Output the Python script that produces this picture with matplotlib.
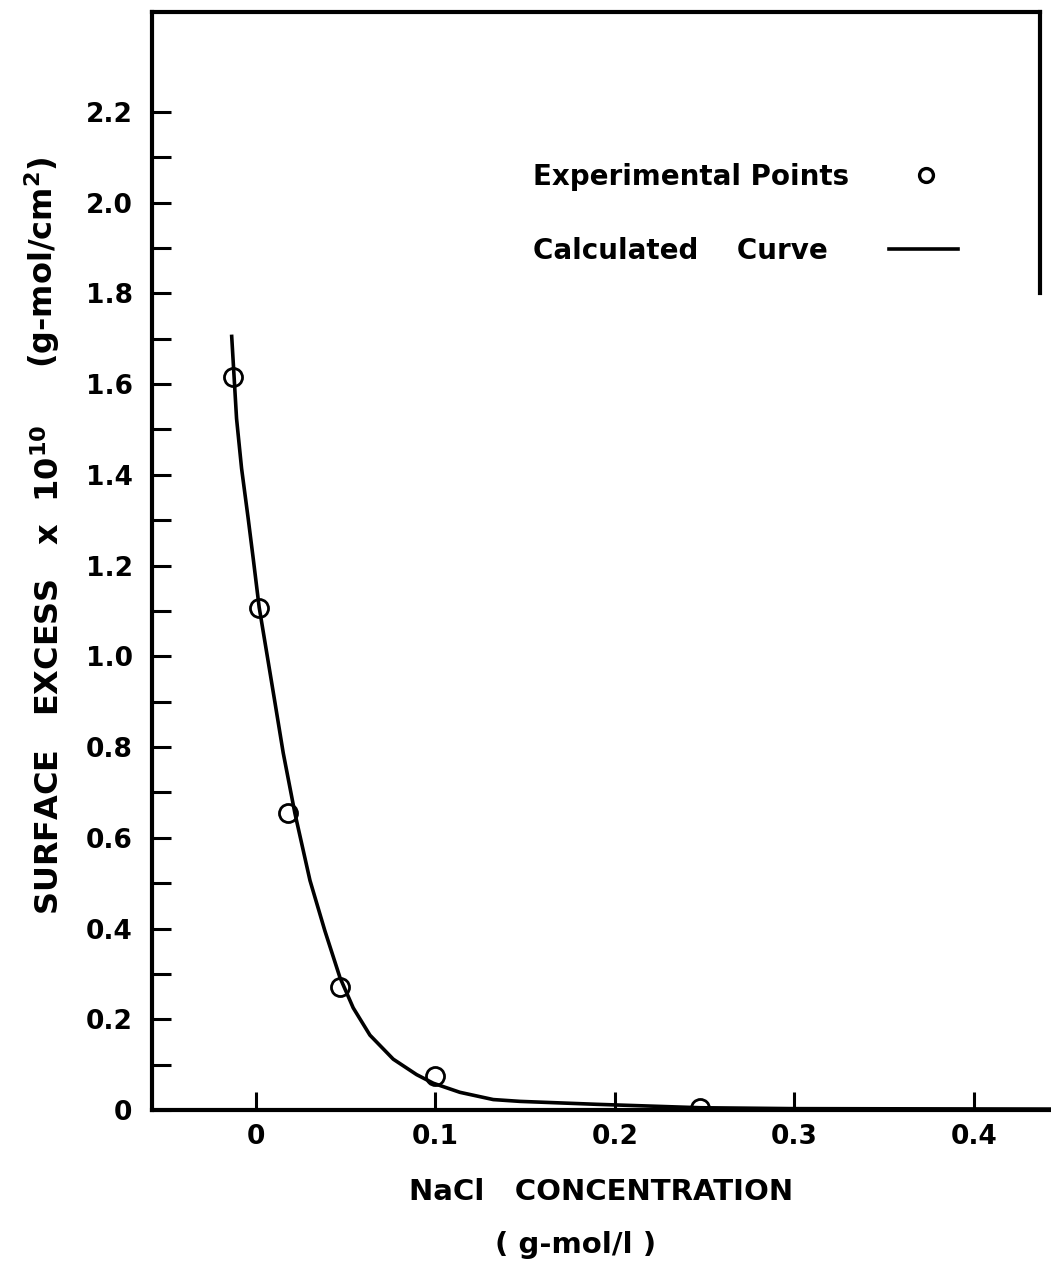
# surface excess vs NaCl concentration, experimental points and calculated curve
import matplotlib
matplotlib.use("Agg")
import matplotlib.pyplot as plt
from matplotlib.lines import Line2D

plt.rcParams['font.family'] = ['DejaVu Sans']

# experimental points
conc_pts = [-0.0126, 0.0017, 0.018, 0.0468, 0.0997, 0.2474]
excess_pts = [1.616, 1.106, 0.655, 0.270, 0.074, 0.005]

# calculated curve
conc_curve = [-0.0135, -0.0108, -0.0080, -0.0043, -0.0015, 0.0018, 0.0060, 0.0106,
              0.0152, 0.0199, 0.0217, 0.0301, 0.0384, 0.0468, 0.0542, 0.0635,
              0.0765, 0.0895, 0.0988, 0.1136, 0.1322, 0.1471, 0.19, 0.2474, 0.30, 0.4429]
excess_curve = [1.705, 1.524, 1.414, 1.303, 1.215, 1.108, 1.008, 0.898,
                0.787, 0.691, 0.654, 0.506, 0.395, 0.292, 0.225, 0.165,
                0.112, 0.078, 0.059, 0.039, 0.023, 0.019, 0.0125, 0.005, 0.003, 0.002]

y_major = [0, 0.2, 0.4, 0.6, 0.8, 1.0, 1.2, 1.4, 1.6, 1.8, 2.0, 2.2]
y_major_labels = ["0", "0.2", "0.4", "0.6", "0.8", "1.0", "1.2", "1.4", "1.6", "1.8", "2.0", "2.2"]
y_minor = [0.1, 0.3, 0.5, 0.7, 0.9, 1.1, 1.3, 1.5, 1.7, 1.9, 2.1]
x_major = [0, 0.1, 0.2, 0.3, 0.4]
x_major_labels = ["0", "0.1", "0.2", "0.3", "0.4"]

W, H = 1051, 1264
fig = plt.figure(figsize=(W / 100, H / 100), dpi=100)
ax = fig.add_axes([152 / W, 1 - 1110 / H, 1 - 152 / W, (1110 - 12) / H])

ax.plot(conc_curve, excess_curve, color='black', lw=2.6, solid_joinstyle='round')
ax.plot(conc_pts, excess_pts, 'o', ms=13, mfc='none', mec='black', mew=2.0)

ax.set_xlim(-0.0579, 0.4429)
ax.set_ylim(0, 2.42)

x_right = 0.4365
for s in ['left', 'bottom', 'top', 'right']:
    ax.spines[s].set_linewidth(3)
ax.spines['right'].set_position(('data', x_right))
ax.spines['right'].set_bounds(1.8, 2.42)
ax.spines['top'].set_bounds(-0.0579, x_right)

ax.set_yticks(y_major)
ax.set_yticklabels(y_major_labels)
ax.set_yticks(y_minor, minor=True)
ax.set_xticks(x_major)
ax.set_xticklabels(x_major_labels)
ax.tick_params(axis='y', which='both', direction='in', length=14, width=2.2,
               labelsize=19, pad=14, right=False)
ax.tick_params(axis='x', which='major', direction='in', length=13, width=2.2,
               labelsize=19, pad=10, top=False)
for lab in ax.get_xticklabels() + ax.get_yticklabels():
    lab.set_fontweight('bold')

fig.text(50 / W, 1 - 915 / H, r"SURFACE   EXCESS   x  10$^{\mathbf{10}}$",
         rotation=90, ha='center', va='bottom', fontsize=23, fontweight='bold')
fig.text(42 / W, 1 - 368 / H, r"(g-mol/cm$^{\mathbf{2}}$)",
         rotation=90, ha='center', va='bottom', fontsize=23, fontweight='bold')

fig.text(601 / W, 1 - 1192 / H, "NaCl   CONCENTRATION", ha='center', va='center',
         fontsize=21, fontweight='bold')
fig.text(576 / W, 1 - 1245 / H, "( g-mol/l )", ha='center', va='center',
         fontsize=21, fontweight='bold')

# legend: two single-entry legends so both labels start at the same x
pts_handle = Line2D([], [], ls='none', marker='o', ms=10, mfc='none', mec='black', mew=2.4)
curve_handle = Line2D([], [], color='black', lw=2.6)
leg1 = ax.legend([pts_handle], ["Experimental Points"], loc='upper left',
                 bbox_to_anchor=(0.424, 0.8625), frameon=False, markerfirst=False,
                 fontsize=20, handlelength=2.5, handletextpad=1.5,
                 borderpad=0, borderaxespad=0)
for t in leg1.get_texts():
    t.set_fontweight('bold')
ax.add_artist(leg1)
leg2 = ax.legend([curve_handle], ["Calculated    Curve"], loc='upper left',
                 bbox_to_anchor=(0.424, 0.795), frameon=False, markerfirst=False,
                 fontsize=20, handlelength=2.5, handletextpad=2.2,
                 borderpad=0, borderaxespad=0)
for t in leg2.get_texts():
    t.set_fontweight('bold')

fig.savefig("out.png", dpi=100)
